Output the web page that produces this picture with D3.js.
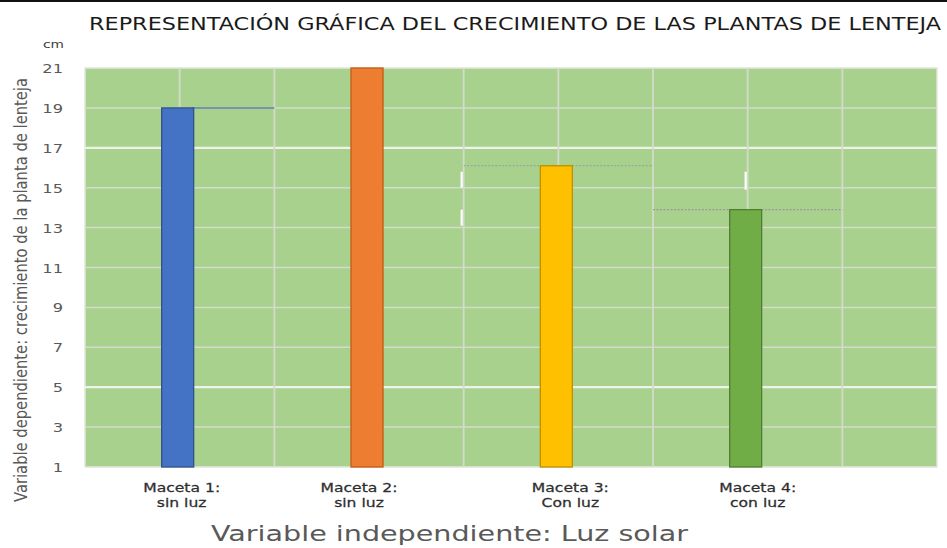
<!DOCTYPE html>
<html>
<head>
<meta charset="utf-8">
<script src="https://cdn.jsdelivr.net/npm/d3@7"></script>
<style>
  html, body { margin: 0; padding: 0; background: #fff; }
  svg { display: block; }
  text { font-family: "DejaVu Sans", Verdana, sans-serif; }
</style>
</head>
<body>
<svg id="chart" width="947" height="548"></svg>
<script>
// Crecimiento de las plantas de lenteja (cm) por maceta
const categories = ["Maceta 1:|sin luz", "Maceta 2:|sin luz", "Maceta 3:|Con luz", "Maceta 4:|con luz"];
const growth = [19, 21, 16.1, 13.9];
const barColors = ["#4472c4", "#ed7d31", "#ffc000", "#70ad47"];
const barEdges = ["#2f528f", "#c55a11", "#bf9000", "#507e32"];
const yTicks = [1, 3, 5, 7, 9, 11, 13, 15, 17, 19, 21];
const strongTicks = [5, 17];
const titleText = "REPRESENTACIÓN GRÁFICA DEL CRECIMIENTO DE LAS PLANTAS DE LENTEJA";
const yTitle = "Variable dependiente: crecimiento de la planta de lenteja";
const xTitle = "Variable independiente: Luz solar";
const unitLabel = "cm";

const svg = d3.select("#chart");
const plot = { left: 85, right: 937, top: 68, bottom: 467 };

// top rule
svg.append("rect").attr("x", 0).attr("y", 0).attr("width", 947).attr("height", 2).attr("fill", "#111");

// 9 grid columns; each category sits on an odd column line
const xCol = d3.scaleLinear().domain([0, 9]).range([plot.left, plot.right]);
const y = d3.scaleLinear().domain([1, 21]).range([plot.bottom, plot.top]);
const xCenter = i => xCol(2 * i + 1);
const barW = 32;

svg.append("rect")
  .attr("x", plot.left).attr("y", plot.top)
  .attr("width", plot.right - plot.left).attr("height", plot.bottom - plot.top)
  .attr("fill", "#a9d18e").attr("stroke", "#e2e6de").attr("stroke-width", 1.5);

// horizontal grid
svg.append("g").selectAll("line").data(yTicks.slice(1, -1)).join("line")
  .attr("x1", plot.left).attr("x2", plot.right)
  .attr("y1", d => y(d)).attr("y2", d => y(d))
  .attr("stroke", d => strongTicks.includes(d) ? "#eef2ea" : "#d3dbcb")
  .attr("stroke-width", d => strongTicks.includes(d) ? 2.2 : 1.5);

// vertical grid
svg.append("g").selectAll("line").data(d3.range(1, 9)).join("line")
  .attr("x1", d => xCol(d)).attr("x2", d => xCol(d))
  .attr("y1", plot.top).attr("y2", plot.bottom)
  .attr("stroke", "#d3dbcb").attr("stroke-width", 1.8);

// level guides extending from the bars
svg.append("line")
  .attr("x1", xCenter(0) + barW / 2 - 4).attr("x2", xCol(2))
  .attr("y1", y(growth[0])).attr("y2", y(growth[0]))
  .attr("stroke", "#5b7ca8").attr("stroke-width", 1.5);
[2, 3].forEach(i => {
  svg.append("line")
    .attr("x1", xCol(2 * i)).attr("x2", xCol(2 * i + 2))
    .attr("y1", y(growth[i])).attr("y2", y(growth[i]))
    .attr("stroke", "#9a9a9a").attr("stroke-width", 1.2)
    .attr("stroke-dasharray", "2,1.5");
});

// small white marks on the column lines
const whiteMarks = [[4, 15.8, 15.0], [4, 13.9, 13.1], [7, 15.8, 14.9]];
svg.append("g").selectAll("line").data(whiteMarks).join("line")
  .attr("x1", d => xCol(d[0]) - 2).attr("x2", d => xCol(d[0]) - 2)
  .attr("y1", d => y(d[1])).attr("y2", d => y(d[2]))
  .attr("stroke", "#ffffff").attr("stroke-width", 2.2);

// bars
svg.append("g").selectAll("rect").data(growth).join("rect")
  .attr("x", (d, i) => xCenter(i) - barW / 2 - 2)
  .attr("y", d => y(d))
  .attr("width", barW).attr("height", d => y(1) - y(d))
  .attr("fill", (d, i) => barColors[i])
  .attr("stroke", (d, i) => barEdges[i]).attr("stroke-width", 1.3);

// y tick labels
const yAxis = svg.append("g");
yTicks.forEach(t => {
  yAxis.append("text")
    .attr("transform", `translate(63,${y(t) + 5}) scale(1.25,1)`)
    .attr("text-anchor", "end")
    .attr("font-size", 13).attr("fill", "#595959")
    .text(t);
});

// category labels (two lines each)
const catG = svg.append("g");
categories.forEach((c, i) => {
  const lines = c.split("|");
  const cx = xCenter(i) + [2, -10, 12, 10][i];
  lines.forEach((ln, k) => {
    catG.append("text")
      .attr("transform", `translate(${cx},${492 + k * 15}) scale(1.3,1)`)
      .attr("text-anchor", "middle")
      .attr("font-size", 12).attr("fill", "#2e2e2e")
      .attr("stroke", "#2e2e2e").attr("stroke-width", 0.25)
      .text(ln);
  });
});

// title
svg.append("text")
  .attr("x", 89).attr("y", 30)
  .attr("font-family", "Open Sans, sans-serif")
  .attr("font-size", 17).attr("fill", "#1a1a1a")
  .attr("textLength", 852).attr("lengthAdjust", "spacingAndGlyphs")
  .text(titleText);

// unit
svg.append("text")
  .attr("transform", "translate(43,48) scale(1.25,1)")
  .attr("font-size", 11).attr("fill", "#404040")
  .text(unitLabel);

// y axis title
svg.append("text")
  .attr("transform", "translate(27,502) rotate(-90)")
  .attr("font-family", "Liberation Sans Narrow, Liberation Sans, sans-serif")
  .attr("font-size", 17).attr("fill", "#595959")
  .attr("textLength", 424).attr("lengthAdjust", "spacingAndGlyphs")
  .text(yTitle);

// x axis title
svg.append("text")
  .attr("x", 211).attr("y", 541)
  .attr("font-family", "Open Sans, sans-serif")
  .attr("font-size", 21).attr("fill", "#595959")
  .attr("textLength", 477).attr("lengthAdjust", "spacingAndGlyphs")
  .text(xTitle);
</script>
</body>
</html>
